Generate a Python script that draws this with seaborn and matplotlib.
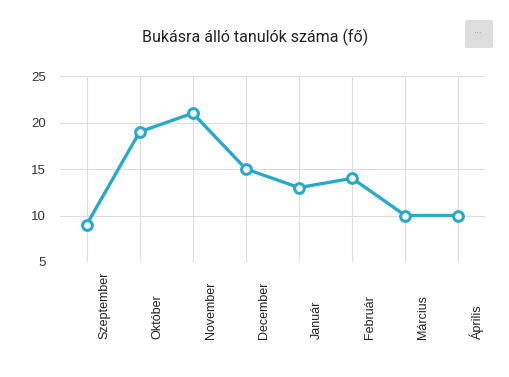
import matplotlib
matplotlib.use("Agg")
import matplotlib.pyplot as plt
import matplotlib.transforms as mtransforms
from matplotlib.patches import FancyBboxPatch
import seaborn as sns
import pandas as pd

months = ["Szeptember", "Október", "November", "December", "Január", "Február", "Március", "Április"]
students = [9, 19, 21, 15, 13, 14, 10, 10]
y_ticks = [5, 10, 15, 20, 25]
title = "Bukásra álló tanulók száma (fő)"

sns.set_style("white")
plt.rcParams["font.family"] = ["Liberation Sans", "DejaVu Sans"]

df = pd.DataFrame({"x": range(len(months)), "y": students})

fig = plt.figure(figsize=(5.10, 3.77), dpi=100)
ax = fig.add_axes([60/510, 1-262/377, (485-60)/510, (262-76)/377])

sns.lineplot(data=df, x="x", y="y", ax=ax, color="#27A9CC", linewidth=2.4,
             marker="o", markersize=7, markerfacecolor="white",
             markeredgecolor="#27A9CC", markeredgewidth=2.2, zorder=3)

ax.set_xlim(-0.5, len(months) - 0.5)
ax.set_ylim(5, 25)
ax.set_yticks(y_ticks)
ax.set_xticks(range(len(months)))
ax.set_xticklabels([])
ax.grid(True, color="#dddddd", linewidth=0.8)
for s in ax.spines.values():
    s.set_visible(False)
ax.tick_params(axis="both", length=0)
ax.tick_params(axis="y", labelsize=9.5, labelcolor="#333333", pad=10)
ax.set_xlabel("")
ax.set_ylabel("")

trans = mtransforms.blended_transform_factory(ax.transData, ax.transAxes)
offset = mtransforms.ScaledTranslation(18/100, 0, fig.dpi_scale_trans)
bottom_y = -(339-262)/(262-76)
for i, m in enumerate(months):
    ax.text(i, bottom_y, m, transform=trans + offset, rotation=90,
            ha="center", va="bottom", fontsize=9, color="#222222")

fig.text(255/510, 1-37/377, title, ha="center", va="center", fontsize=11.5,
         family=["Roboto", "DejaVu Sans"], color="#222222")

btn = FancyBboxPatch((465/510, 1-48/377), 28/510, 28/377,
                     boxstyle="round,pad=0,rounding_size=0.005",
                     transform=fig.transFigure, facecolor="#dddddd",
                     edgecolor="none")
fig.patches.append(btn)
fig.text(479/510, 1-33/377, "···", ha="center", va="center", fontsize=7,
         color="#888888")

fig.savefig("out.png", dpi=100)
